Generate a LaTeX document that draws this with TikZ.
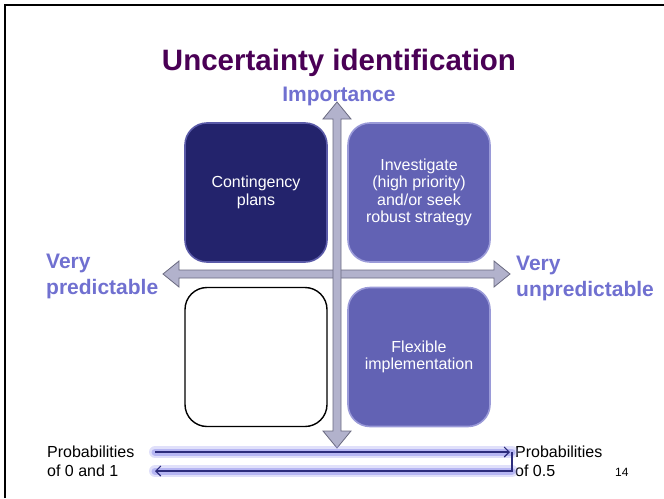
\documentclass[tikz,border=0pt]{standalone}
\usepackage{fontspec}
\setmainfont{Liberation Sans}
\usetikzlibrary{arrows.meta}
\definecolor{titlecol}{HTML}{4A0055}
\definecolor{lblcol}{HTML}{7070D0}
\definecolor{navybox}{HTML}{23236C}
\definecolor{slatebox}{HTML}{6262B4}
\definecolor{navyedge}{HTML}{5A5AA8}
\definecolor{slateedge}{HTML}{9A9AD8}
\definecolor{axisfill}{HTML}{B2B2CC}
\definecolor{axisline}{HTML}{6A6A80}
\definecolor{glowcol}{HTML}{9A9AEE}
\definecolor{probline}{HTML}{2C2C7C}
\begin{document}
\begin{tikzpicture}[x=1pt,y=-1pt,
  quad/.style={minimum width=142pt,minimum height=139pt,inner sep=0pt,
    rounded corners=22pt,align=center,text=white,line width=1.6pt,
    font=\fontsize{16}{17.5}\selectfont},
  axislbl/.style={text=lblcol,inner sep=0pt,align=left,
    font=\fontsize{21}{25.5}\selectfont\bfseries},
  plain/.style={inner sep=0pt,align=left,font=\fontsize{16}{19.5}\selectfont},
  axisarrow/.style={fill=axisfill,draw=axisline,line width=0.8pt,line join=miter},
  glowwide/.style={glowcol,opacity=0.3,line width=12pt,line cap=round,line join=round},
  glowline/.style={glowcol,opacity=0.6,line width=7pt,line cap=round,line join=round},
  probarrow/.style={probline,line width=1.1pt,-{Straight Barb[length=5pt,width=10pt]}}]
\useasboundingbox (0,0) rectangle (664,498);
\draw[line width=2pt] (5,498) -- (5,5) -- (664,5);

% title
\node[anchor=base,text=titlecol,inner sep=0pt,font=\fontsize{29.5}{32}\selectfont\bfseries] (title) at (339,70) {Uncertainty identification};

% quadrants
\node[quad,fill=navybox,draw=navyedge] (tl) at (256,192.5) {Contingency\\plans};
\node[quad,fill=slatebox,draw=slateedge] (tr) at (419,192.5) {Investigate\\(high priority)\\and/or seek\\robust strategy};
\node[quad,fill=white,draw=black,line width=1.4pt] (bl) at (256,357) {};
\node[quad,fill=slatebox,draw=slateedge] (br) at (419,357) {Flexible\\implementation};

% axes
\draw[axisarrow] (163,274) -- (179,261) -- (179,270) -- (494,270) -- (494,261)
  -- (510,274) -- (494,287) -- (494,278) -- (179,278) -- (179,287) -- cycle;
\draw[axisarrow] (337,102) -- (351,119) -- (341,119) -- (341,431) -- (351,431)
  -- (337,448) -- (323,431) -- (333,431) -- (333,119) -- (323,119) -- cycle;

% axis labels
\node[anchor=base,text=lblcol,inner sep=0pt,font=\fontsize{21}{24}\selectfont\bfseries] (imp) at (339,101) {Importance};
\node[axislbl,anchor=base west] (vp) at (46,294) {Very\\predictable};
\node[axislbl,anchor=base west] (vu) at (516,296) {Very\\unpredictable};

% probability labels
\node[plain,anchor=base west] (p01) at (47,476.5) {Probabilities\\of 0 and 1};
\node[plain,anchor=base west] (p05) at (515,476.5) {Probabilities\\of 0.5};
\node[inner sep=0pt,anchor=base west,font=\fontsize{12}{14}\selectfont] (pg) at (615,476) {14};

\coordinate (a1) at (155,452);
\coordinate (a2) at (510,452);
\coordinate (a3) at (512,452);
\coordinate (a4) at (512,471);
\coordinate (a5) at (155,471);
\draw[glowwide] (a1) -- (a3);
\draw[glowwide] (a4) -- (a5);
\draw[glowline] (a1) -- (a3);
\draw[glowline] (a4) -- (a5);
\draw[probarrow] (a1) -- (a2);
\draw[probarrow] (a3) -- (a4) -- (a5);
\end{tikzpicture}
\end{document}
